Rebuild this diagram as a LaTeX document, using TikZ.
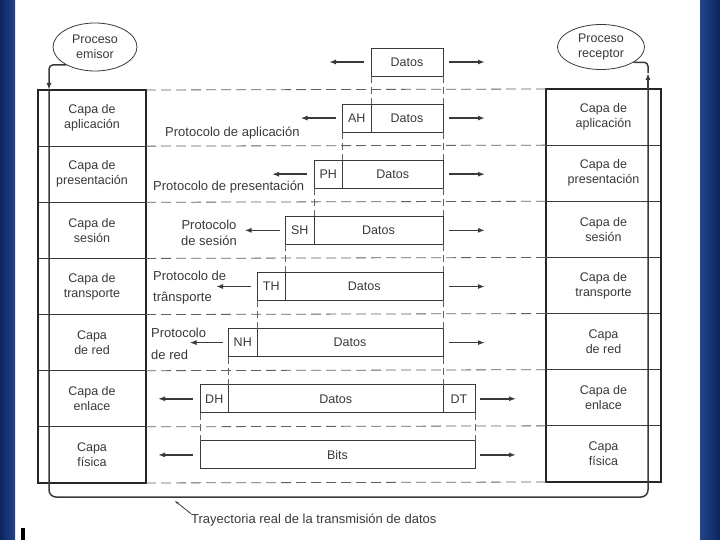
\documentclass[tikz,border=0pt]{standalone}
\usepackage{fontspec}
\setmainfont{Liberation Sans}
\usetikzlibrary{arrows.meta, positioning, shapes.geometric}
\definecolor{ink}{HTML}{3A3A3A}
\definecolor{navyA}{HTML}{0C2460}
\definecolor{navyB}{HTML}{23458A}
\tikzset{capa/.style={rectangle,draw=ink,line width=0.9pt,outer sep=0pt,inner sep=0pt,align=center,text=ink,minimum height=56.14pt,minimum width=#1,font=\fontsize{12.5}{15}\selectfont},
proc/.style={ellipse,draw=ink,line width=0.8pt,inner sep=0pt,align=center,text=ink,font=\fontsize{12.5}{15}\selectfont},
pdu/.style={rectangle,draw=ink,line width=0.9pt,outer sep=0pt,inner sep=0pt,minimum height=28pt,text=ink,font=\fontsize{12.5}{14}\selectfont},
hdr/.style={pdu,minimum width=28.5pt},
proto/.style={inner sep=0pt,align=left,text=ink,font=\fontsize{13}{16}\selectfont},
marco/.style={draw=black!85,line width=2.5pt},
ruta/.style={draw=ink,line width=1.5pt},
nivel/.style={draw=ink!80,line width=0.8pt,dash pattern=on 10pt off 5pt},
guia/.style={draw=ink!80,line width=0.7pt,dash pattern=on 7pt off 4pt},
line/.style={draw=ink,line width=1.5pt,-{Latex[length=7pt,width=5pt]}}}
\begin{document}
\begin{tikzpicture}[x=1pt,y=-1pt]
\fill[white] (0,0) rectangle (720,540);
\useasboundingbox (0,0) rectangle (720,540);
% bandas de la diapositiva
\shade[left color=navyA,right color=navyB] (0,0) rectangle (15,540);
\shade[left color=navyB,right color=navyA] (700,0) rectangle (720,540);
\fill[black] (21,528) rectangle (25,540);

% pila del emisor
\node[capa=108pt] (sapl) at (92,118.07) {Capa de\\aplicación};
\node[capa=108pt, below=0pt of sapl] (spre) {Capa de\\presentación};
\node[capa=108pt, below=0pt of spre] (sses) {Capa de\\sesión};
\node[capa=108pt, below=0pt of sses] (stra) {Capa de\\transporte};
\node[capa=108pt, below=0pt of stra] (sred) {Capa\\de red};
\node[capa=108pt, below=0pt of sred] (senl) {Capa de\\enlace};
\node[capa=108pt, below=0pt of senl] (sfis) {Capa\\física};
\draw[marco] (sapl.north west) rectangle (sfis.south east);

% pila del receptor
\node[capa=115pt] (rapl) at (603.5,117.07) {Capa de\\aplicación};
\node[capa=115pt, below=0pt of rapl] (rpre) {Capa de\\presentación};
\node[capa=115pt, below=0pt of rpre] (rses) {Capa de\\sesión};
\node[capa=115pt, below=0pt of rses] (rtra) {Capa de\\transporte};
\node[capa=115pt, below=0pt of rtra] (rred) {Capa\\de red};
\node[capa=115pt, below=0pt of rred] (renl) {Capa de\\enlace};
\node[capa=115pt, below=0pt of renl] (rfis) {Capa\\física};
\draw[marco] (rapl.north west) rectangle (rfis.south east);

% niveles
\draw[nivel] (sapl.north east) -- (rapl.north west);
\draw[nivel] (sapl.south east) -- (rapl.south west);
\draw[nivel] (spre.south east) -- (rpre.south west);
\draw[nivel] (sses.south east) -- (rses.south west);
\draw[nivel] (stra.south east) -- (rtra.south west);
\draw[nivel] (sred.south east) -- (rred.south west);
\draw[nivel] (senl.south east) -- (renl.south west);
\draw[nivel] (sfis.south east) -- (rfis.south west);

% unidades de datos
\node[pdu, minimum width=72pt] (d0) at (407,62) {Datos};
\node[hdr] (ah) at (356.75,118.07) {AH};
\node[pdu, minimum width=72pt, right=0pt of ah] (d1) {Datos};
\node[hdr] (ph) at (328.25,174.21) {PH};
\node[pdu, minimum width=100.5pt, right=0pt of ph] (d2) {Datos};
\node[hdr] (sh) at (299.75,230.35) {SH};
\node[pdu, minimum width=129pt, right=0pt of sh] (d3) {Datos};
\node[hdr] (th) at (271.25,286.49) {TH};
\node[pdu, minimum width=157.5pt, right=0pt of th] (d4) {Datos};
\node[hdr] (nh) at (242.75,342.63) {NH};
\node[pdu, minimum width=186pt, right=0pt of nh] (d5) {Datos};
\node[hdr] (dh) at (214.25,398.77) {DH};
\node[pdu, minimum width=214.5pt, right=0pt of dh] (d6) {Datos};
\node[pdu, minimum width=32pt, right=0pt of d6] (dt) {DT};
\node[pdu, minimum width=275pt] (bits) at (337.5,454.91) {Bits};

% guias verticales
\draw[guia] (d0.south west) -- (d1.north west);
\draw[guia] (d0.south east) -- (d1.north east);
\draw[guia] (ah.south west) -- (d2.north west);
\draw[guia] (d1.south east) -- (d2.north east);
\draw[guia] (ph.south west) -- (d3.north west);
\draw[guia] (d2.south east) -- (d3.north east);
\draw[guia] (sh.south west) -- (d4.north west);
\draw[guia] (d3.south east) -- (d4.north east);
\draw[guia] (th.south west) -- (d5.north west);
\draw[guia] (d4.south east) -- (d5.north east);
\draw[guia] (nh.south west) -- (d6.north west);
\draw[guia] (d5.south east) -- (d6.north east);
\draw[guia] (dh.south west) -- (bits.north west);
\draw[guia] (dt.south east) -- (bits.north east);

% flechas
\draw[line] ([xshift=-7pt]d0.west) -- ([xshift=-42pt]d0.west);
\draw[line] ([xshift=6pt]d0.east) -- ([xshift=42pt]d0.east);
\draw[line] ([xshift=-7pt]ah.west) -- ([xshift=-42pt]ah.west);
\draw[line] ([xshift=6pt]d1.east) -- ([xshift=42pt]d1.east);
\draw[line] ([xshift=-7pt]ph.west) -- ([xshift=-42pt]ph.west);
\draw[line] ([xshift=6pt]d2.east) -- ([xshift=42pt]d2.east);
\draw[line] ([xshift=-6pt]sh.west) -- ([xshift=-41pt]sh.west);
\draw[line] ([xshift=6pt]d3.east) -- ([xshift=42pt]d3.east);
\draw[line] ([xshift=-6pt]th.west) -- ([xshift=-41pt]th.west);
\draw[line] ([xshift=6pt]d4.east) -- ([xshift=42pt]d4.east);
\draw[line] ([xshift=-6pt]nh.west) -- ([xshift=-39pt]nh.west);
\draw[line] ([xshift=6pt]d5.east) -- ([xshift=42pt]d5.east);
\draw[line] ([xshift=-7pt]dh.west) -- ([xshift=-42pt]dh.west);
\draw[line] ([xshift=5pt]dt.east) -- ([xshift=41pt]dt.east);
\draw[line] ([xshift=-7pt]bits.west) -- ([xshift=-42pt]bits.west);
\draw[line] ([xshift=5pt]bits.east) -- ([xshift=41pt]bits.east);

% protocolos
\node[proto, anchor=west] (papl) at (165,133) {Protocolo de aplicación};
\node[proto, anchor=west] (ppre) at (153,187) {Protocolo de presentación};
\node[proto, align=center] (pses) at (209,233) {Protocolo\\de sesión};
\node[proto, anchor=west] (ptra) at (153,287.5) {Protocolo de\\[5pt]trânsporte};
\node[proto, anchor=west] (pred) at (151,344) {Protocolo\\[6pt]de red};

% procesos y trayectoria
\node[proc, minimum width=84pt, minimum height=48pt] (emisor) at (95,47) {Proceso\\emisor};
\node[proc, minimum width=87pt, minimum height=45pt] (receptor) at (601,47) {Proceso\\receptor};
\coordinate (entA) at (49,90);
\coordinate (esqA) at (49,497);
\coordinate (esqB) at (648,497);
\coordinate (entB) at (648,89);
\coordinate (salB) at (648,73);
\draw[line, rounded corners=4pt] (emisor.212) -| (entA);
\draw[ruta, rounded corners=7pt] (entA) -- (esqA) -- (esqB) -- (entB);
\draw[line] (entB) -- (salB);
\draw[ruta, rounded corners=4pt] (salB) |- (receptor.335);
\node[proto, anchor=west] (tray) at (191,520) {Trayectoria real de la transmisión de datos};
\coordinate (marca) at (175,501);
\draw[draw=ink, line width=0.8pt, -{Stealth[length=4pt,width=2.5pt]}] (tray.north west) -- (marca);
\end{tikzpicture}
\end{document}
